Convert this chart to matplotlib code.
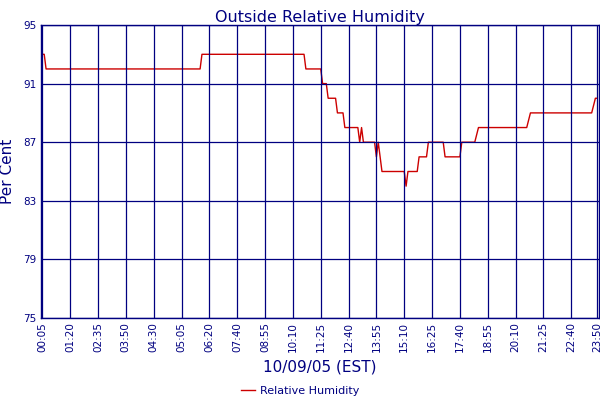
import numpy as np
import matplotlib
matplotlib.use("Agg")
import matplotlib.pyplot as plt

# --- Data (run-length encoded: value, number of samples) ---
hum_values = [93, 92, 93, 92, 91, 90, 89, 88, 87, 88, 87, 86, 87, 86, 85,
              84, 85, 86, 87, 86, 87, 87.5, 88, 88.5, 89, 89.5, 90]
hum_counts = [2, 84, 56, 9, 3, 5, 4, 8, 1, 1, 7, 1, 1, 1, 13,
              1, 6, 5, 9, 9, 8, 1, 27, 1, 34, 1, 2]

tick_labels = ["00:05", "01:20", "02:35", "03:50", "04:30", "05:05", "06:20",
               "07:40", "08:55", "10:10", "11:25", "12:40", "13:55", "15:10",
               "16:25", "17:40", "18:55", "20:10", "21:25", "22:40", "23:50"]
y_ticks = [75, 79, 83, 87, 91, 95]

humidity = np.repeat(hum_values, hum_counts)
n = len(humidity)
tick_pos = list(range(0, n - 1, 15)) + [n - 1]

navy = "#000080"
red = "#cc0000"

fig = plt.figure(figsize=(6, 4), dpi=100)
ax = fig.add_axes([0.0675, 0.205, 0.931, 0.7325])

ax.plot(np.arange(n), humidity, color=red, lw=1.0, label="Relative Humidity")

ax.set_xlim(-1, n)
ax.set_ylim(75, 95)
ax.set_xticks(tick_pos)
ax.set_xticklabels(tick_labels, rotation=90, fontsize=7.5, color=navy)
ax.set_yticks(y_ticks)
ax.set_yticklabels([str(v) for v in y_ticks], fontsize=7.5, color=navy)
ax.tick_params(length=0, pad=3)

# grid sits over the trace, as in the original
ax.set_axisbelow(False)
ax.grid(True, color=navy, lw=0.9)
for s in ax.spines.values():
    s.set_color(navy)
    s.set_linewidth(1.0)

ax.set_title("Outside Relative Humidity", color=navy, fontsize=11.5, pad=2)
ax.set_ylabel("Per Cent", color=navy, fontsize=11, labelpad=6)
ax.set_xlabel("10/09/05 (EST)", color=navy, fontsize=11, labelpad=5)

fig.legend(loc="lower center", bbox_to_anchor=(0.5, -0.015), frameon=False,
           fontsize=8, labelcolor=navy, handlelength=1.3, handletextpad=0.4)

fig.savefig("out.png", dpi=100)
